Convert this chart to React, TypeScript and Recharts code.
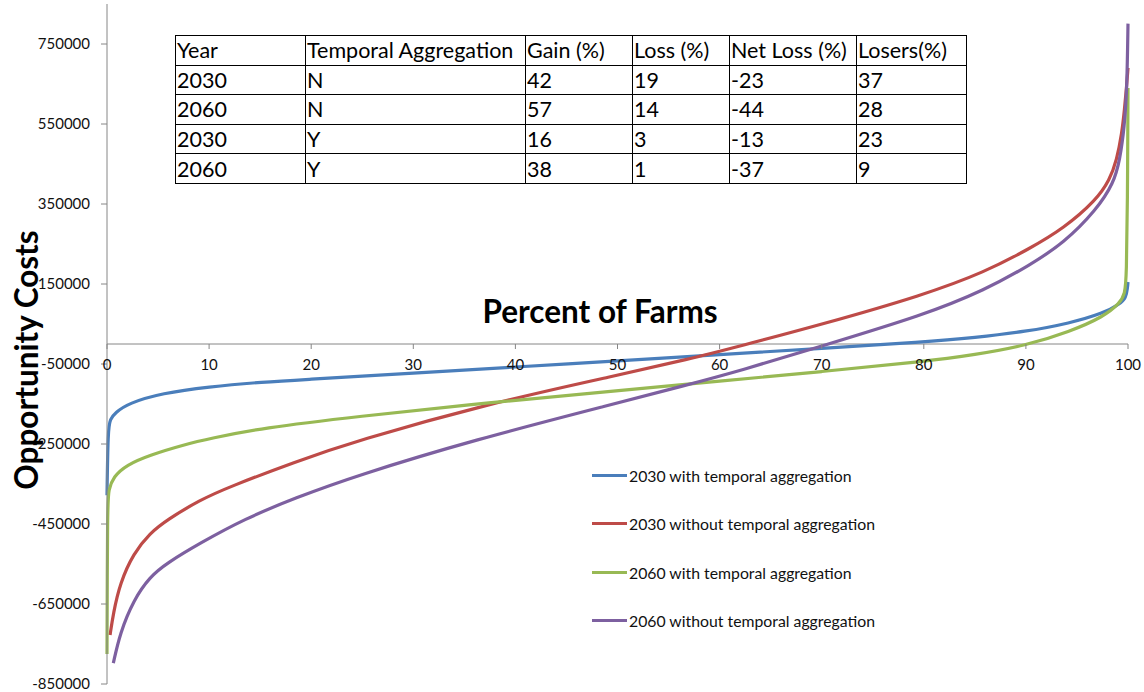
import React from "react";
import { LineChart, Line, XAxis, YAxis, ReferenceLine } from "recharts";

// ---- data ----
const pct2030TA = [0, 0.1, 0.3, 0.8, 2.1, 5.4, 9.9, 15.2, 20, 25, 30, 40, 50, 60, 70, 80, 85, 90, 94.3, 97.6, 99.2, 99.8, 99.95, 100];
const cost2030TA = [-378000, -215000, -188000, -172000, -148000, -123000, -107000, -95000, -88000, -80500, -73000, -57500, -42000, -26500, -11000, 5000, 16000, 31000, 52000, 77000, 100000, 115000, 140000, 155000];

const pct2030N = [0.3, 0.62, 1.27, 2.6, 4.2, 5.85, 9.1, 11.9, 18.4, 24.3, 37.5, 50, 57, 62, 69.8, 80, 86, 90.4, 93.7, 96.9, 98.2, 98.9, 99.4, 99.65, 99.85, 100];
const cost2030N = [-727500, -673000, -598000, -523000, -473000, -440000, -390000, -358000, -295000, -243000, -148000, -78000, -38000, -5000, 47500, 122500, 180000, 239000, 289000, 360000, 410000, 460000, 527000, 585000, 640000, 690000];

const pct2060TA = [0, 0.05, 0.15, 0.62, 1.9, 4.2, 7.5, 10.1, 15.2, 24.3, 37.5, 50, 60, 70, 80, 85, 90, 94.3, 97.6, 99.2, 99.7, 99.85, 99.95, 100];
const cost2060TA = [-775000, -400000, -365000, -332000, -302500, -277500, -252000, -236000, -210000, -182000, -146000, -117000, -93000, -69000, -44000, -27000, -4000, 31000, 68000, 102000, 125000, 170000, 350000, 640000];

const pct2060N = [0.62, 1.27, 2.6, 4.2, 5.85, 9.1, 13.5, 18.4, 24.3, 35.9, 49.9, 56.4, 62, 70, 80, 86, 90.4, 93.7, 96.9, 98.6, 99.2, 99.65, 99.9, 100];
const cost2060N = [-798000, -723000, -640000, -582000, -548000, -498000, -437000, -385000, -330000, -240000, -148000, -105000, -67000, -5000, 72500, 135000, 197500, 252000, 335000, 402000, 460000, 543000, 640000, 801000];

const seriesNames = [
  "2030 with temporal aggregation",
  "2030 without temporal aggregation",
  "2060 with temporal aggregation",
  "2060 without temporal aggregation",
];
const seriesColors = ["#4A7EBB", "#BE4B48", "#98B954", "#7D60A0"];
const seriesX = [pct2030TA, pct2030N, pct2060TA, pct2060N];
const seriesY = [cost2030TA, cost2030N, cost2060TA, cost2060N];

const xTicks = [0, 10, 20, 30, 40, 50, 60, 70, 80, 90, 100];
const yTicks = [-850000, -650000, -450000, -250000, -50000, 150000, 350000, 550000, 750000];
const yDomain = [-850000, 850000];

const tableHeader = ["Year", "Temporal Aggregation", "Gain (%)", "Loss (%)", "Net Loss (%)", "Losers(%)"];
const tableYears = ["2030", "2060", "2030", "2060"];
const tableAgg = ["N", "N", "Y", "Y"];
const tableGain = ["42", "57", "16", "38"];
const tableLoss = ["19", "14", "3", "1"];
const tableNet = ["-23", "-44", "-13", "-37"];
const tableLosers = ["37", "28", "23", "9"];

const xTitle = "Percent of Farms";
const yTitle = "Opportunity Costs";

// ---- layout ----
const W = 1144;
const H = 692;
const X_AXIS_H = 1;
const MARGIN = { top: 4, right: 16, bottom: 7, left: 0 };
const Y_AXIS_W = 107;
const PLOT_H = H - MARGIN.top - MARGIN.bottom - X_AXIS_H;
const ZERO_Y = MARGIN.top + (PLOT_H * yDomain[1]) / (yDomain[1] - yDomain[0]);
const FONT = "Lato, 'Open Sans', sans-serif";
const AXIS_COLOR = "#868686";

const colWidths = [130, 220, 107, 97, 127, 110];

const XTick = (props: any) => {
  const { x, payload } = props;
  return (
    <g>
      <line x1={x} x2={x} y1={ZERO_Y} y2={ZERO_Y + 5} stroke={AXIS_COLOR} />
      <text x={x} y={ZERO_Y + 20} textAnchor="middle" dominantBaseline="central" fontFamily={FONT} fontSize={15} fill="#111">
        {payload.value}
      </text>
    </g>
  );
};

export default function App() {
  const rows = tableYears.map((y, i) => [y, tableAgg[i], tableGain[i], tableLoss[i], tableNet[i], tableLosers[i]]);
  return (
    <div style={{ position: "relative", width: W, height: H, background: "#fff", fontFamily: FONT }}>
      <style>{"body{margin:0}"}</style>
      <LineChart width={W} height={H} margin={MARGIN}>
        <XAxis
          type="number"
          dataKey="x"
          domain={[0, 100]}
          ticks={xTicks}
          height={X_AXIS_H}
          axisLine={false}
          tickLine={false}
          tick={XTick}
          interval={0}
        />
        <YAxis
          type="number"
          domain={yDomain}
          ticks={yTicks}
          width={Y_AXIS_W}
          interval={0}
          tickSize={6}
          tickMargin={11}
          axisLine={{ stroke: AXIS_COLOR }}
          tickLine={{ stroke: AXIS_COLOR }}
          tick={{ fontFamily: FONT, fontSize: 15, fill: "#111" }}
        />
        <ReferenceLine y={0} stroke={AXIS_COLOR} strokeWidth={1} />
        {seriesNames.map((name, s) => (
          <Line
            key={name}
            name={name}
            data={seriesX[s].map((x, i) => ({ x, y: seriesY[s][i] }))}
            dataKey="y"
            type="basis"
            stroke={seriesColors[s]}
            strokeWidth={3.2}
            dot={false}
            activeDot={false}
            isAnimationActive={false}
          />
        ))}
      </LineChart>

      {/* x-axis title */}
      <div
        style={{
          position: "absolute",
          left: 600,
          top: 311,
          transform: "translate(-50%,-50%)",
          fontWeight: 700,
          fontSize: 31.5,
          whiteSpace: "nowrap",
          color: "#000",
        }}
      >
        {xTitle}
      </div>

      {/* y-axis title */}
      <div
        style={{
          position: "absolute",
          left: 26,
          top: 360,
          transform: "translate(-50%,-50%) rotate(-90deg)",
          fontWeight: 700,
          fontSize: 31.5,
          whiteSpace: "nowrap",
          color: "#000",
        }}
      >
        {yTitle}
      </div>

      {/* table */}
      <table
        style={{
          position: "absolute",
          left: 175,
          top: 35,
          borderCollapse: "collapse",
          background: "#fff",
          fontFamily: FONT,
          fontSize: 21.5,
          color: "#000",
          tableLayout: "fixed",
        }}
      >
        <tbody>
          {[tableHeader, ...rows].map((r, ri) => (
            <tr key={ri} style={{ height: 29.6 }}>
              {r.map((c, ci) => (
                <td
                  key={ci}
                  style={{
                    width: colWidths[ci],
                    border: "1.5px solid #000",
                    padding: "0 0 0 1px",
                    lineHeight: "26px",
                    boxSizing: "border-box",
                    whiteSpace: "nowrap",
                    overflow: "hidden",
                  }}
                >
                  {c}
                </td>
              ))}
            </tr>
          ))}
        </tbody>
      </table>

      {/* legend */}
      <div style={{ position: "absolute", left: 592, top: 463 }}>
        {seriesNames.map((name, s) => (
          <div key={name} style={{ display: "flex", alignItems: "center", height: 24.5, marginBottom: 24 }}>
            <div style={{ width: 35, height: 3, background: seriesColors[s], marginRight: 2 }} />
            <span style={{ fontSize: 15.8, color: "#111", whiteSpace: "nowrap" }}>{name}</span>
          </div>
        ))}
      </div>
    </div>
  );
}
